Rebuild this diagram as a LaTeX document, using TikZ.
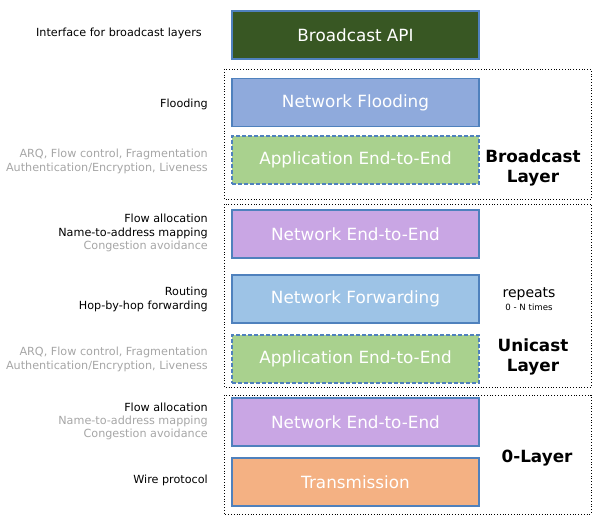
\documentclass[tikz,border=0pt]{standalone}
\usepackage{fontspec}
\setmainfont{DejaVu Sans}
\definecolor{bord}{HTML}{4F81BD}
\definecolor{apigreen}{HTML}{385723}
\definecolor{flood}{HTML}{8FAADC}
\definecolor{appgreen}{HTML}{A9D18E}
\definecolor{purp}{HTML}{C9A6E4}
\definecolor{fwd}{HTML}{9DC3E6}
\definecolor{trans}{HTML}{F4B183}
\definecolor{lgray}{HTML}{A6A6A6}
\begin{document}
\begin{tikzpicture}[x=1pt,y=-1pt,
  blk/.style={draw=bord,line width=1.1pt,minimum width=247pt,minimum height=48pt,inner sep=0pt,text=white,font=\fontsize{16.8}{19}\selectfont},
  dblk/.style={blk,dash pattern=on 4pt off 2pt},
  lbl/.style={anchor=east,align=right,font=\fontsize{11.2}{13.3}\selectfont,inner sep=0pt},
  grp/.style={draw=black,dotted,line width=0.8pt},
  big/.style={align=center,font=\fontsize{16.8}{19.5}\selectfont\bfseries,inner sep=0pt}]
\useasboundingbox (0,0) rectangle (600,517);
% groups
\draw[grp] (224,69) rectangle (591,199);
\draw[grp] (224,204) rectangle (591,387);
\draw[grp] (224,395) rectangle (591,514);
% blocks
\node[blk,fill=apigreen] (api) at (355.5,35) {Broadcast API};
\node[blk,fill=flood] (flood) at (355.5,102.5) {Network Flooding};
\node[dblk,fill=appgreen] (app1) at (355.5,160) {Application End-to-End};
\node[blk,fill=purp] (ne1) at (355.5,234) {Network End-to-End};
\node[blk,fill=fwd] (fwd) at (355.5,299) {Network Forwarding};
\node[dblk,fill=appgreen] (app2) at (355.5,359) {Application End-to-End};
\node[blk,fill=purp] (ne2) at (355.5,422) {Network End-to-End};
\node[blk,fill=trans] (tr) at (355.5,482) {Transmission};
% left labels
\node[lbl] (l1) at (202,33) {Interface for broadcast layers};
\node[lbl] (l2) at (208,104) {Flooding};
\node[lbl,text=lgray] (l3) at (208,161.5) {ARQ, Flow control, Fragmentation\\Authentication/Encryption, Liveness};
\node[lbl] (l4) at (208,233) {Flow allocation\\Name-to-address mapping\\\textcolor{lgray}{Congestion avoidance}};
\node[lbl] (l5) at (208,299.5) {Routing\\Hop-by-hop forwarding};
\node[lbl,text=lgray] (l6) at (208,359.5) {ARQ, Flow control, Fragmentation\\Authentication/Encryption, Liveness};
\node[lbl] (l7) at (208,421.5) {Flow allocation\\\textcolor{lgray}{Name-to-address mapping}\\\textcolor{lgray}{Congestion avoidance}};
\node[lbl] (l8) at (208,480) {Wire protocol};
% right labels
\node[big] (bl) at (533,168) {Broadcast\\Layer};
\node[inner sep=0pt,font=\fontsize{14}{16}\selectfont] (rep) at (529,294) {repeats};
\node[inner sep=0pt,font=\fontsize{8.6}{10}\selectfont] (rep2) at (529,307) {0 - N times};
\node[big] (ul) at (533,357) {Unicast\\Layer};
\node[big] (zl) at (537,458) {0-Layer};
\end{tikzpicture}
\end{document}
